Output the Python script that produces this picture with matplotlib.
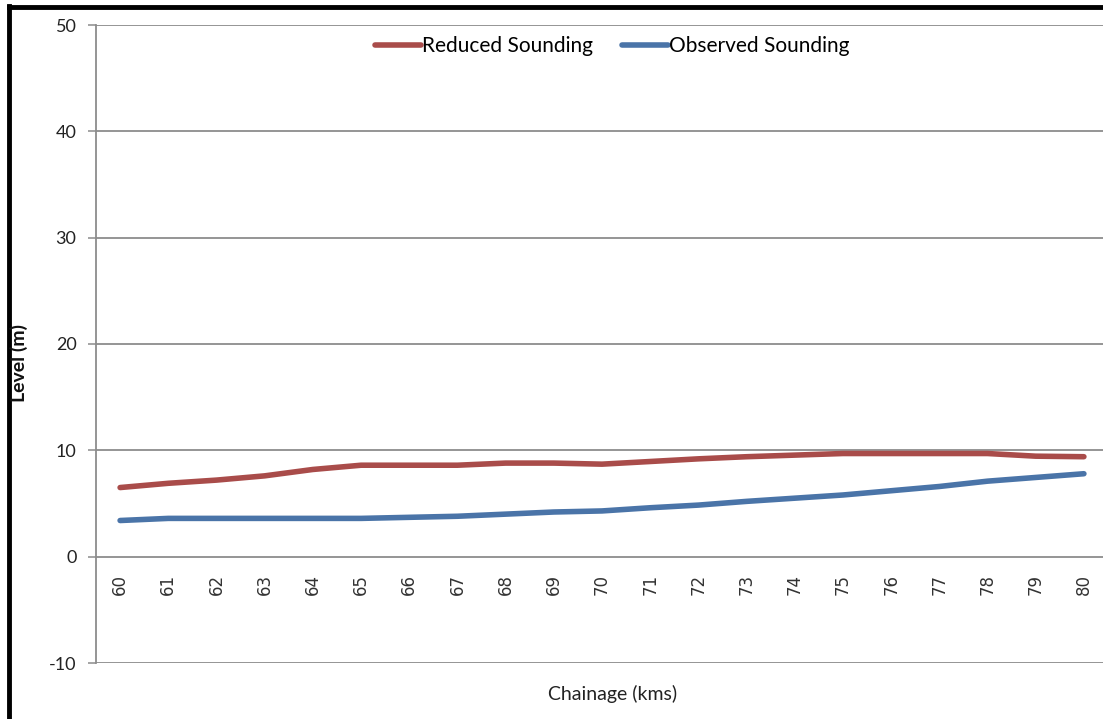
import matplotlib.pyplot as plt
from matplotlib.lines import Line2D

# chainage in km and sounding levels in metres
chainage = list(range(60, 81))
reduced = [6.5, 6.9, 7.2, 7.6, 8.2, 8.6, 8.6, 8.6, 8.8, 8.8, 8.7,
           8.95, 9.2, 9.4, 9.55, 9.7, 9.7, 9.7, 9.7, 9.45, 9.4]
observed = [3.4, 3.6, 3.6, 3.6, 3.6, 3.6, 3.7, 3.8, 4.0, 4.2, 4.3,
            4.6, 4.85, 5.2, 5.5, 5.8, 6.2, 6.6, 7.1, 7.45, 7.8]
y_ticks = [-10, 0, 10, 20, 30, 40, 50]

plt.rcParams['font.family'] = ['Lato', 'DejaVu Sans']
plt.rcParams['axes.unicode_minus'] = False

W, H = 1103, 719
fig = plt.figure(figsize=(W / 100, H / 100), dpi=100)
ax = fig.add_axes([96 / W, (H - 663) / H, 1012 / W, 638 / H])

grid_col = '#8c8c8c'
for v in y_ticks:
    ax.axhline(v, color=grid_col, lw=1.3, zorder=1)

ax.plot(chainage, reduced, color='#a94c4a', lw=4, solid_capstyle='round',
        zorder=3, label='Reduced Sounding')
ax.plot(chainage, observed, color='#4a74a8', lw=4, solid_capstyle='round',
        zorder=3, label='Observed Sounding')

ax.set_xlim(59.5, 80.5)
ax.set_ylim(-10, 50)
ax.set_yticks(y_ticks)
ax.set_xticks([])
for s in ['top', 'right', 'bottom']:
    ax.spines[s].set_visible(False)
ax.spines['left'].set_color(grid_col)
ax.spines['left'].set_linewidth(1.3)
ax.tick_params(axis='y', length=6, width=1.1, color=grid_col,
               labelsize=13, labelcolor='#222222', pad=8)

# category labels sit just under the zero line
for c in chainage:
    ax.text(c, -1.6, str(c), rotation=90, ha='center', va='top',
            fontsize=12, color='#333333', family='DejaVu Sans')

ax.set_xlabel('Chainage (kms)', fontsize=14, color='#222222')
ax.xaxis.set_label_coords(0.51, -0.035)
fig.text(19 / W, 0.495, 'Level (m)', rotation=90, ha='center', va='center',
         fontsize=14, fontweight='bold', color='#111111')

ax.legend(loc='upper center', bbox_to_anchor=(0.51, 1.005), ncol=2,
          frameon=False, fontsize=15, handlelength=2.2, handletextpad=0.05,
          columnspacing=1.4, borderaxespad=0.3)

# outer frame on the left and top
fig.add_artist(Line2D([9 / W, 9 / W], [0, 1 - 6 / H], color='black', lw=3.5,
                      transform=fig.transFigure))
fig.add_artist(Line2D([9 / W, 1], [1 - 7 / H, 1 - 7 / H], color='black', lw=3.5,
                      transform=fig.transFigure))

fig.savefig('out.png', dpi=100)
